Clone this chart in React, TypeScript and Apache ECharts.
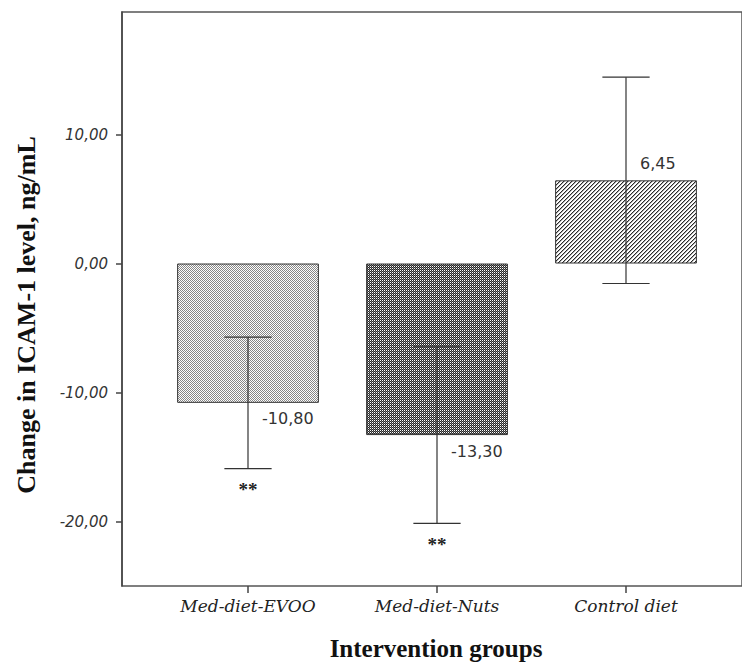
import React, { useEffect, useRef } from "react";
import * as echarts from "echarts";

const categories = ["Med-diet-EVOO", "Med-diet-Nuts", "Control diet"];
const means = [-10.8, -13.3, 6.45];
const errLow = [-15.9, -20.15, -1.55];
const errHigh = [-5.7, -6.45, 14.45];
const valueLabels = ["-10,80", "-13,30", "6,45"];
const significance = ["**", "**", ""];
const yTicks = [-20, -10, 0, 10];
const yMin = -25;
const yMax = 19.5;

function makePattern(size: number, fn: (x: number, y: number) => number) {
  const c = document.createElement("canvas");
  c.width = size;
  c.height = size;
  const ctx = c.getContext("2d")!;
  const img = ctx.createImageData(size, size);
  for (let y = 0; y < size; y++) {
    for (let x = 0; x < size; x++) {
      const v = fn(x, y);
      const i = (y * size + x) * 4;
      img.data[i] = v;
      img.data[i + 1] = v;
      img.data[i + 2] = v;
      img.data[i + 3] = 255;
    }
  }
  ctx.putImageData(img, 0, 0);
  return { image: c, repeat: "repeat", imageWidth: size, imageHeight: size } as any;
}

export default function App() {
  const ref = useRef<HTMLDivElement>(null);
  useEffect(() => {
    document.body.style.margin = "0";
    if (!ref.current) return;
    const chart = echarts.init(ref.current, undefined, { renderer: "svg" });

    const pEvoo = makePattern(2, (x, y) => ((x + y) % 2 === 0 ? 135 : 255));
    const pNuts = makePattern(4, (x, y) => (x % 2 === 0 && y % 2 === 0 ? 255 : (x + y) % 2 === 0 ? 120 : 40));
    const pCtrl = makePattern(4, (x, y) => {
      const k = (x + y) % 4;
      return k === 0 ? 40 : k === 1 ? 170 : 255;
    });
    const patterns = [pEvoo, pNuts, pCtrl];

    const fmt = (v: number) => v.toFixed(2).replace(".", ",");

    const option: any = {
      animation: false,
      backgroundColor: "#ffffff",
      grid: [
        { left: 122, top: 12, width: 660, height: 574, show: true, borderColor: "#555", borderWidth: 1.5, backgroundColor: "transparent" },
        { left: 153.5, top: 12, width: 567, height: 574 },
      ],
      xAxis: [
        { type: "value", gridIndex: 0, show: false, min: 0, max: 1 },
        {
          type: "category",
          gridIndex: 1,
          data: categories,
          axisLine: { show: false, onZero: false },
          axisTick: { show: true, alignWithLabel: true, length: 7, lineStyle: { color: "#444", width: 1.5 } },
          axisLabel: {
            margin: 11,
            color: "#222",
            fontFamily: "DejaVu Serif",
            fontStyle: "italic",
            fontSize: 17,
          },
          splitLine: { show: false },
        },
      ],
      yAxis: [
        {
          type: "value",
          gridIndex: 0,
          min: yMin,
          max: yMax,
          axisLine: { show: true, lineStyle: { color: "#444", width: 1.5 } },
          axisTick: { show: true, length: 6, customValues: yTicks, lineStyle: { color: "#444", width: 1.5 } },
          axisLabel: {
            customValues: yTicks,
            formatter: (v: number) => fmt(v),
            margin: 14,
            color: "#333",
            fontFamily: "DejaVu Sans",
            fontStyle: "italic",
            fontSize: 15,
          },
          splitLine: { show: false },
        },
        { type: "value", gridIndex: 1, min: yMin, max: yMax, show: false, splitLine: { show: false } },
      ],
      graphic: [
        {
          type: "text",
          x: 26,
          y: 315,
          rotation: Math.PI / 2,
          style: {
            text: "Change in ICAM-1 level, ng/mL",
            font: "bold 26px 'Liberation Serif'",
            fill: "#111",
            textAlign: "center",
            textVerticalAlign: "middle",
          },
        },
        {
          type: "text",
          x: 436,
          y: 648,
          style: {
            text: "Intervention groups",
            font: "bold 25px 'Liberation Serif'",
            fill: "#111",
            textAlign: "center",
            textVerticalAlign: "middle",
          },
        },
      ],
      series: [
        {
          type: "bar",
          xAxisIndex: 1,
          yAxisIndex: 1,
          barWidth: "75%",
          data: means.map((m, i) => ({
            value: m,
            itemStyle: { color: patterns[i], borderColor: "#333", borderWidth: 1 },
          })),
        },
        {
          type: "custom",
          xAxisIndex: 1,
          yAxisIndex: 1,
          z: 5,
          encode: { x: 0, y: [1, 2, 3] },
          data: categories.map((c, i) => [i, errLow[i], errHigh[i], means[i]]),
          renderItem: (params: any, api: any) => {
            const i = api.value(0);
            const lo = api.coord([i, api.value(1)]);
            const hi = api.coord([i, api.value(2)]);
            const mv = api.value(3);
            const m = api.coord([i, mv]);
            const half = api.size([1, 0])[0] * 0.125;
            const cx = lo[0];
            const lineStyle = { stroke: "#333", lineWidth: 1.2 };
            const children: any[] = [
              { type: "line", shape: { x1: cx, y1: lo[1], x2: cx, y2: hi[1] }, style: lineStyle },
              { type: "line", shape: { x1: cx - half, y1: lo[1], x2: cx + half, y2: lo[1] }, style: lineStyle },
              { type: "line", shape: { x1: cx - half, y1: hi[1], x2: cx + half, y2: hi[1] }, style: lineStyle },
              {
                type: "text",
                style: {
                  x: cx + 14,
                  y: m[1] + (mv < 0 ? 16 : -17),
                  text: valueLabels[params.dataIndex],
                  font: "16px 'DejaVu Sans'",
                  fill: "#333",
                  textAlign: "left",
                  textVerticalAlign: "middle",
                },
              },
            ];
            const sig = significance[params.dataIndex];
            if (sig) {
              children.push({
                type: "text",
                style: {
                  x: cx,
                  y: lo[1] + 21,
                  text: sig,
                  font: "bold 19px 'Liberation Serif'",
                  fill: "#222",
                  textAlign: "center",
                  textVerticalAlign: "middle",
                },
              });
            }
            return { type: "group", children };
          },
        },
      ],
    };
    chart.setOption(option);
    return () => chart.dispose();
  }, []);
  return <div ref={ref} style={{ width: 742, height: 666 }} />;
}
